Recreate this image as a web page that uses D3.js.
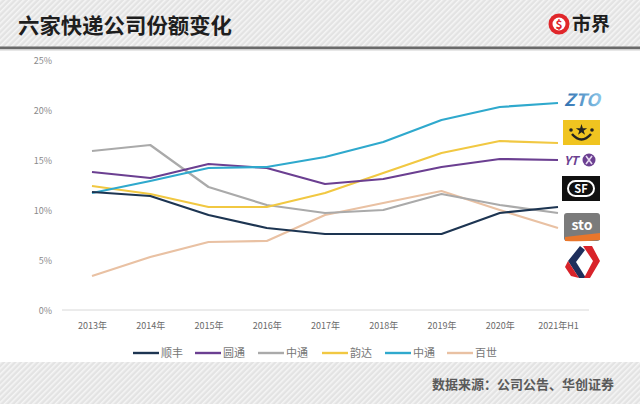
<!DOCTYPE html>
<html><head><meta charset="utf-8">
<script src="https://cdn.jsdelivr.net/npm/d3@7"></script>
<style>body{margin:0;background:#fff}svg{display:block}text{font-family:"Noto Sans CJK SC","Noto Sans",sans-serif}</style>
</head><body>
<script>
const years = ["2013年","2014年","2015年","2016年","2017年","2018年","2019年","2020年","2021年H1"];
const yTicks = [0,5,10,15,20,25];
const sfValues   = [11.8,11.4,9.5,8.2,7.6,7.6,7.6,9.7,10.3];
const ytoValues  = [13.8,13.2,14.6,14.2,12.6,13.1,14.3,15.1,15.0];
const stoValues  = [15.9,16.5,12.3,10.5,9.7,10.0,11.6,10.5,9.7];
const ydValues   = [12.4,11.6,10.3,10.3,11.7,13.7,15.7,16.9,16.7];
const ztoValues  = [11.7,12.9,14.2,14.3,15.3,16.8,19.0,20.3,20.7];
const bestValues = [3.4,5.3,6.8,6.9,9.5,10.7,11.9,10.0,8.2];
const seriesNames = ["顺丰","圆通","中通","韵达","中通","百世"];
const seriesValues = [sfValues,ytoValues,stoValues,ydValues,ztoValues,bestValues];
const seriesColors = ["#1d3552","#6b3f91","#aaaaaa","#f1c842","#2fa9cd","#e9c1a3"];

const W=640,H=404;
const svg=d3.select("body").append("svg").attr("width",W).attr("height",H);
const defs=svg.append("defs");
const pat=defs.append("pattern").attr("id","stripes").attr("patternUnits","userSpaceOnUse")
  .attr("width",4).attr("height",4).attr("patternTransform","rotate(45)");
pat.append("rect").attr("width",4).attr("height",4).attr("fill","#e3e3e3");
pat.append("rect").attr("width",1.6).attr("height",4).attr("fill","#f5f5f5");

// header & footer backgrounds
svg.append("rect").attr("x",0).attr("y",0).attr("width",W).attr("height",47).attr("fill","url(#stripes)");
svg.append("rect").attr("x",0).attr("y",46.5).attr("width",W).attr("height",2.5).attr("fill","#6a6a6a");
svg.append("rect").attr("x",0).attr("y",49).attr("width",W).attr("height",1.5).attr("fill","#d0d0d0");
svg.append("rect").attr("x",0).attr("y",362).attr("width",W).attr("height",H-362).attr("fill","url(#stripes)");

// title
svg.append("text").attr("x",18).attr("y",33).attr("font-size",21).attr("font-weight","bold")
  .attr("fill","#1e1e1e").attr("textLength",214).attr("lengthAdjust","spacingAndGlyphs").text("六家快递公司份额变化");
// 市界 logo
const lg=svg.append("g").attr("transform","translate(559,24)");
lg.append("circle").attr("r",10.5).attr("fill","#e0262a");
lg.append("circle").attr("r",6.5).attr("fill","#fff");
lg.append("text").attr("x",0).attr("y",4.5).attr("text-anchor","middle").attr("font-size",12).attr("font-weight","bold").attr("fill","#e0262a").text("$");
svg.append("text").attr("x",572).attr("y",31).attr("font-size",19).attr("font-weight","bold").attr("fill","#1e1e1e").text("市界");

// scales
const x=d3.scalePoint().domain(years).range([92,558]);
const y=d3.scaleLinear().domain([0,25]).range([310,60]);

// y axis labels
const ya=svg.append("g").attr("transform","translate(52,0)")
  .call(d3.axisLeft(y).tickValues(yTicks).tickFormat(d=>d+"%").tickSize(0).tickPadding(0));
ya.select(".domain").remove();
ya.selectAll("text").attr("font-size",9).attr("fill","#8a8a8a").attr("font-family","Arial,'Liberation Sans',sans-serif").attr("dy","0.35em");

// x axis
const xa=svg.append("g").attr("transform","translate(0,310)")
  .call(d3.axisBottom(x).tickSize(0).tickPadding(13));
xa.select(".domain").remove();
xa.selectAll("text").attr("font-size",9).attr("fill","#6a6a6a").attr("font-family","Arial,'Liberation Sans','Noto Sans CJK SC',sans-serif");
svg.append("line").attr("x1",62).attr("x2",589).attr("y1",y(0)).attr("y2",y(0)).attr("stroke","#d8d8d8").attr("stroke-width",1);

// lines
const line=d3.line().x((d,i)=>x(years[i])).y(d=>y(d));
const drawOrder=[5,2,3,1,4,0];
drawOrder.forEach(k=>{
  svg.append("path").datum(seriesValues[k]).attr("d",line).attr("fill","none")
    .attr("stroke",seriesColors[k]).attr("stroke-width",2.2).attr("stroke-linejoin","round");
});

// legend
const legX=[133,195,258,322,385,447];
seriesNames.forEach((n,i)=>{
  const g=svg.append("g").attr("transform",`translate(${legX[i]},353)`);
  g.append("line").attr("x1",0).attr("x2",26).attr("stroke",seriesColors[i]).attr("stroke-width",2.4);
  g.append("text").attr("x",28).attr("y",4).attr("font-size",11).attr("fill","#777").text(n);
});

// source
svg.append("text").attr("x",614).attr("y",389).attr("text-anchor","end").attr("font-size",13)
  .attr("font-weight","bold").attr("fill","#5a5a5a").text("数据来源：公司公告、华创证券");

// company logos (right side)
const zg=defs.append("linearGradient").attr("id","ztoGrad").attr("x1","0").attr("x2","1");
zg.append("stop").attr("offset","0").attr("stop-color","#2e6fb0");
zg.append("stop").attr("offset","1").attr("stop-color","#8cc8ea");
svg.append("text").attr("x",564).attr("y",106).attr("font-size",17).attr("font-weight","bold")
  .attr("font-style","italic").attr("fill","url(#ztoGrad)").attr("textLength",36).attr("lengthAdjust","spacingAndGlyphs")
  .attr("font-family","Arial,'Liberation Sans',sans-serif").text("ZTO");
// Yunda
const yd=svg.append("g").attr("transform","translate(563,120)");
yd.append("rect").attr("width",37).attr("height",25).attr("fill","#f0c420");
yd.append("path").attr("d","M9,14 Q18.5,25 28,14").attr("fill","none").attr("stroke","#222").attr("stroke-width",2.4);
yd.append("circle").attr("cx",8).attr("cy",10).attr("r",1.8).attr("fill","#222");
yd.append("circle").attr("cx",29).attr("cy",10).attr("r",1.8).attr("fill","#222");
yd.append("path").attr("d",d3.symbol(d3.symbolStar,40)()).attr("transform","translate(18.5,10)").attr("fill","#222");
// YTO
svg.append("text").attr("x",564).attr("y",165).attr("font-size",12).attr("font-weight","bold")
  .attr("font-style","italic").attr("fill","#6b3f91").attr("font-family","Arial,'Liberation Sans',sans-serif").text("YT");
svg.append("circle").attr("cx",589).attr("cy",160).attr("r",6.5).attr("fill","#6b3f91");
svg.append("path").attr("d","M586,156 L592,164 M592,156 L586,164").attr("stroke","#e6d9f0").attr("stroke-width",1.6);
// SF
const sf=svg.append("g").attr("transform","translate(562,176)");
sf.append("rect").attr("width",38).attr("height",25).attr("fill","#111");
sf.append("rect").attr("x",6).attr("y",5).attr("width",26).attr("height",15).attr("rx",7.5).attr("fill","none").attr("stroke","#fff").attr("stroke-width",2);
sf.append("text").attr("x",19).attr("y",17).attr("text-anchor","middle").attr("font-size",11).attr("font-weight","bold").attr("fill","#fff").attr("font-family","Arial,'Liberation Sans',sans-serif").text("SF");
// STO
const st=svg.append("g").attr("transform","translate(564,213)");
st.append("rect").attr("width",36).attr("height",28).attr("rx",3).attr("fill","#7b7b7b");
st.append("text").attr("x",18).attr("y",17).attr("text-anchor","middle").attr("font-size",14).attr("font-weight","bold").attr("fill","#fff").attr("font-family","Arial,'Liberation Sans',sans-serif").text("sto");
st.append("path").attr("d","M1,24 Q18,22 36,20 L36,27 Q18,29 1,28 Z").attr("fill","#e9762b");
// Best
const be=svg.append("g").attr("transform","translate(565,246)");
be.append("path").attr("d","M15,0 L3,15 L14,32 L21,32 L11,16 L20,4 Z").attr("fill","#1f2f5c");
be.append("path").attr("d","M18,0 L27,0 L35,15 L25,32 L19,32 L28,15 Z").attr("fill","#d8232a");
be.append("path").attr("d","M3,15 L0,21 L6,30 L14,32 Z").attr("fill","#d8232a");
</script>
</body></html>
